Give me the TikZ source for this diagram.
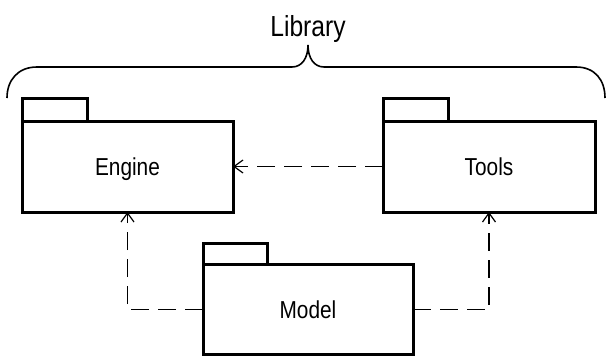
\documentclass[tikz,border=0pt]{standalone}
\usepackage{fontspec}
\setmainfont{Liberation Sans}[FakeStretch=0.85]
\usetikzlibrary{arrows.meta}
\begin{document}
\begin{tikzpicture}[x=1pt,y=-1pt,
  pkg/.style={draw, line width=3pt, outer sep=0pt, inner sep=0pt,
    font=\fontsize{24.5}{28}\selectfont, text height=17.6pt, text depth=0pt},
  tab/.style={draw, line width=3pt},
  dep/.style={line width=1.3pt, dash pattern=on 18pt off 9pt,
    -{Straight Barb[length=9pt,width=13pt,line width=1.2pt]}},
  bracepath/.style={line width=1.6pt},
  title/.style={font=\fontsize{29}{34}\selectfont, inner sep=0pt, anchor=base}]
\useasboundingbox (0,0) rectangle (606,356);
% packages
\node[pkg, minimum width=211pt, minimum height=91pt] (engine) at (127.5,166.5) {Engine};
\node[pkg, minimum width=212pt, minimum height=91pt] (tools) at (489,166.5) {Tools};
\node[pkg, minimum width=210pt, minimum height=90pt] (model) at (308,309.5) {Model};
% tabs
\draw[tab] (engine.north west) rectangle ++(65,-23);
\draw[tab] (tools.north west) rectangle ++(65,-23);
\draw[tab] (model.north west) rectangle ++(64,-21);
% dependencies
\draw[dep] (tools.west) -- (engine.east);
\draw[dep] (model.west) -| (engine.south);
\draw[dep] (model.east) -| (tools.south);
% brace and title
\node[title] (lib) at (308,37) {Library};
\coordinate (tip) at (308,45);
\draw[bracepath] (7,98) .. controls (7,80) and (18,67) .. (37,67)
  -- (292,67) .. controls (302,67) and (308,58) .. (tip)
  .. controls (308,58) and (314,67) .. (324,67)
  -- (576,67) .. controls (595,67) and (605,80) .. (605,98);
\end{tikzpicture}
\end{document}
